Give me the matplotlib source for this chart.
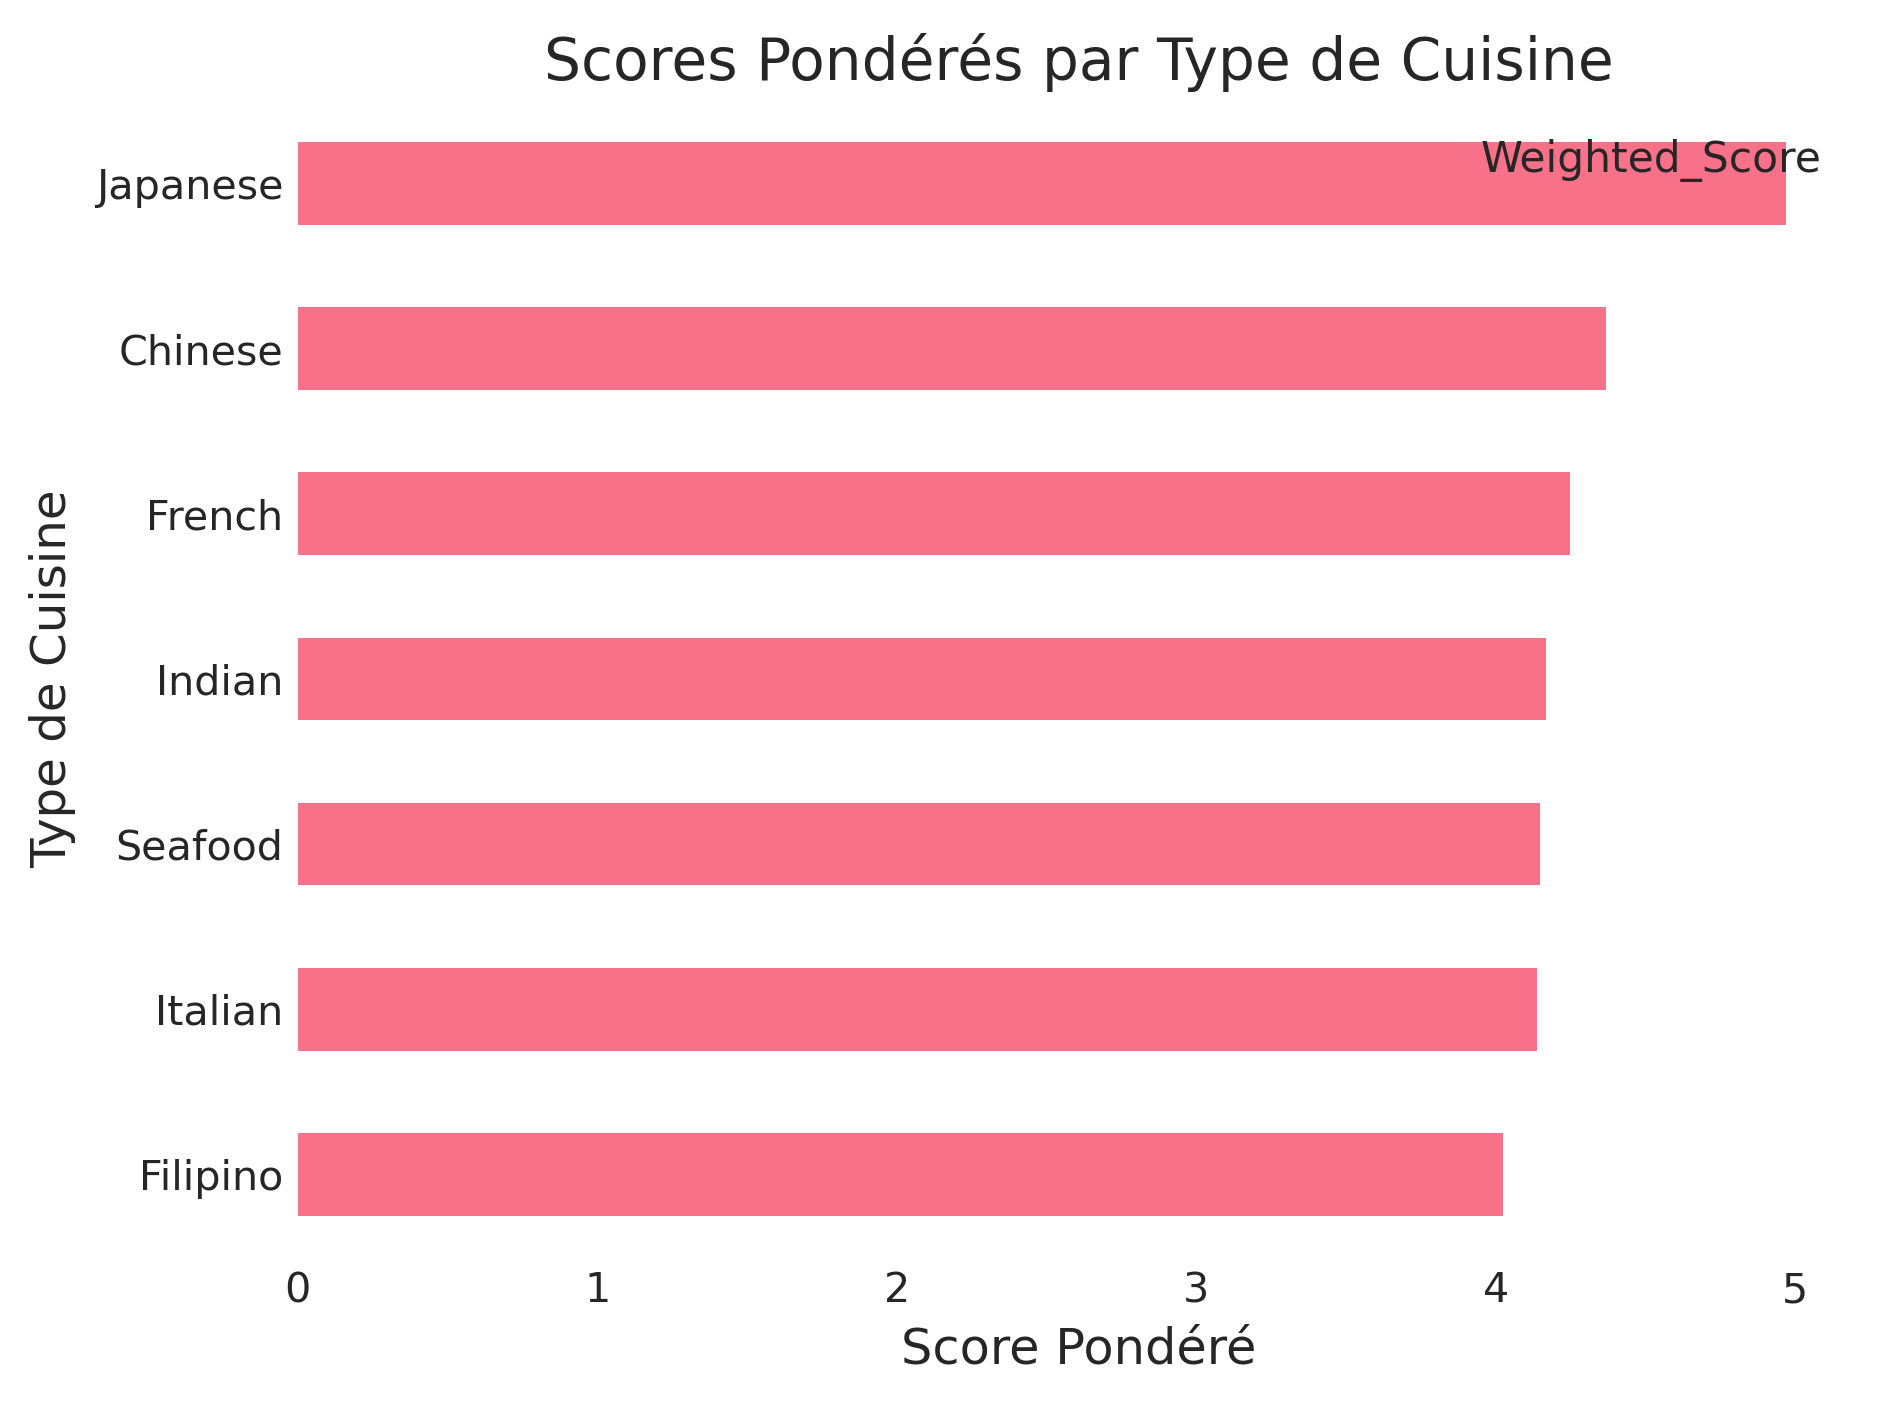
import matplotlib
matplotlib.use("Agg")
import matplotlib.pyplot as plt

# Data (bottom to top)
cuisines = ["Filipino", "Italian", "Seafood", "Indian", "French", "Chinese", "Japanese"]
weighted_score = [4.026, 4.138, 4.147, 4.167, 4.247, 4.368, 4.968]

text_color = "#262626"
bar_color = "#f77189"

plt.rcParams["font.family"] = "DejaVu Sans"
plt.rcParams["text.color"] = text_color
plt.rcParams["axes.labelcolor"] = text_color
plt.rcParams["xtick.color"] = text_color
plt.rcParams["ytick.color"] = text_color

fig = plt.figure(figsize=(1890 / 254, 1409 / 254), dpi=254)
ax = fig.add_axes([0.1575, 0.1079, 0.9841 - 0.1575, 0.9285 - 0.1079])

pos = list(range(len(cuisines)))
ax.barh(pos, weighted_score, height=0.5, color=bar_color, label="Weighted_Score")
ax.set_yticks(pos)
ax.set_yticklabels(cuisines)
ax.set_ylim(-0.5, len(cuisines) - 0.5)
ax.set_xticks([0, 1, 2, 3, 4, 5])

for s in ax.spines.values():
    s.set_visible(False)
ax.tick_params(axis="both", length=0, labelsize=11.7, pad=4)

ax.set_title("Scores Pondérés par Type de Cuisine", fontsize=16.5, color=text_color)
ax.set_xlabel("Score Pondéré", fontsize=14)
ax.set_ylabel("Type de Cuisine", fontsize=13.7, labelpad=5.6)

ax.legend(loc="upper right", frameon=False, fontsize=12)

fig.savefig("out.png", dpi=254)
